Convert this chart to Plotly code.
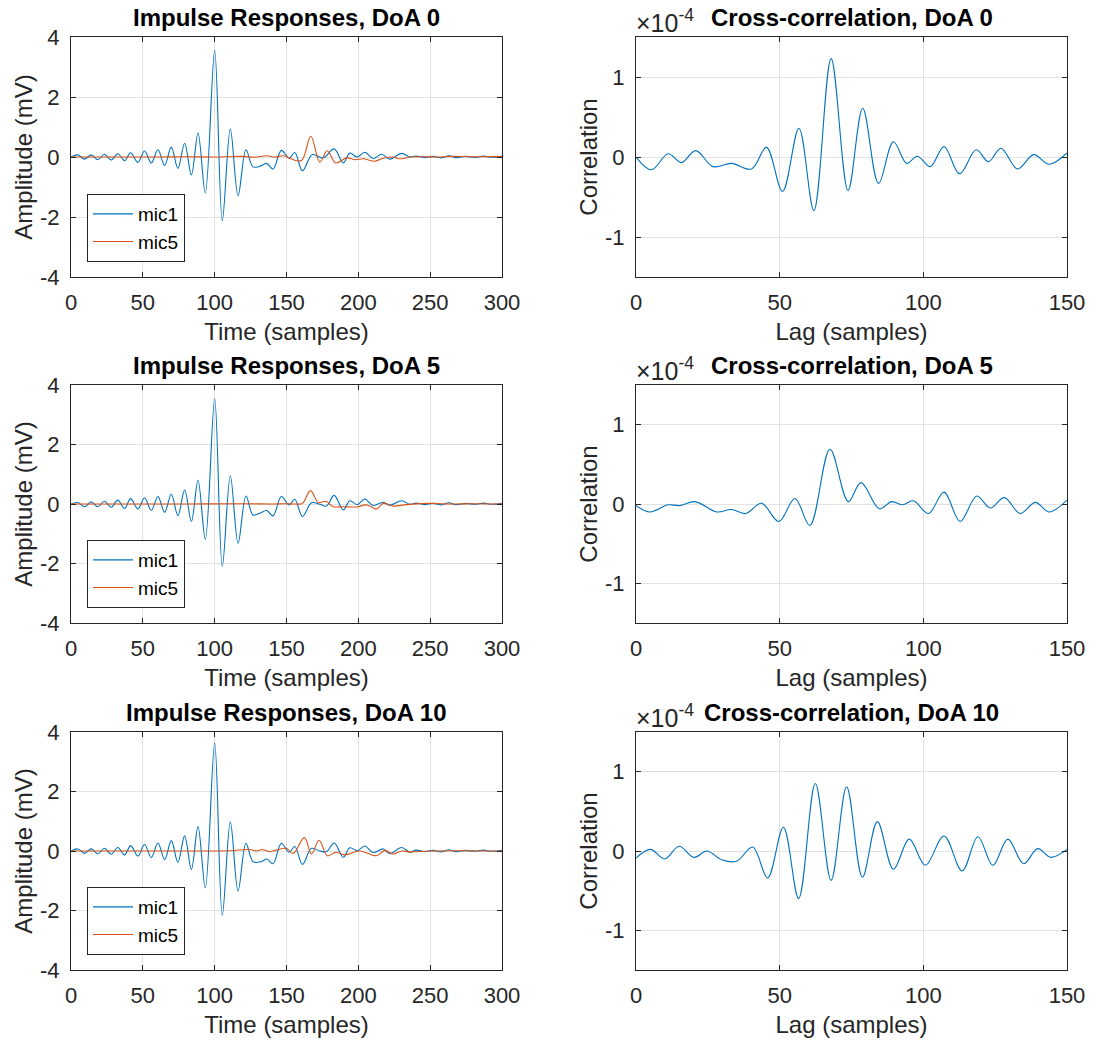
import plotly.graph_objects as go

# ---------------- data ----------------
# Impulse responses (mV) – extrema / key points, samples on x
tail_x = [240, 246, 252, 258, 263, 268, 275, 281, 287, 293, 300]

ir0_mic1_x = [0, 4.8, 9.4, 14.1, 18.7, 23.3, 28, 32.6, 37.3, 41.5, 46.6, 51.2, 55.9, 60.5, 65.2,
              69.8, 74.4, 79.1, 83.8, 88.4, 93.5, 100, 105.3, 110.9, 116.3, 121.8, 126.7, 131.4,
              136.2, 140.6, 146.4, 151.8, 155.8, 161.1, 168, 175.5, 183.2, 189.5, 194.1, 199.2,
              204.5, 210.3, 216.2, 222, 230.1, 235.9] + tail_x
ir0_mic1_y = [0, 0.07, -0.07, 0.07, -0.09, 0.09, -0.10, 0.11, -0.12, 0.14, -0.18, 0.20, -0.20, 0.24, -0.28,
              0.33, -0.38, 0.46, -0.60, 0.80, -1.20, 3.55, -2.12, 0.93, -1.29, 0.24, -0.33, -0.31,
              -0.22, -0.40, 0.22, -0.04, 0.15, -0.46, 0.08, -0.03, 0.27, -0.20, 0.13, 0.0,
              0.16, -0.05, 0.09, -0.07, 0.12, 0.0,
              0.03, -0.02, 0.02, -0.03, 0.04, -0.02, 0.02, -0.01, 0.03, -0.01, 0.02]
ir0_mic5_x = [0, 20, 40, 60, 80, 100, 110, 120, 128, 136, 142, 148, 153, 160.4, 166.9, 173.2, 178.3,
              184.3, 191.8, 197.6, 203.4, 211.5, 217.3, 224, 229, 236, 245, 255, 265, 280, 300]
ir0_mic5_y = [0, 0, 0, 0, 0.01, 0, 0.01, 0.02, -0.01, 0.04, 0.0, 0.04, -0.06, -0.12, 0.69, -0.17, 0.21,
              -0.20, -0.03, -0.09, -0.06, -0.14, -0.04, 0.0, -0.06, 0.0, 0.01, 0.0, 0.02, 0.01, 0.02]

ir5_mic1_x = [0, 4.8, 9.4, 14.1, 18.7, 23.3, 28, 32.6, 37.3, 41.5, 46.6, 51.2, 55.9, 60.5, 65.2,
              69.8, 74.4, 79.1, 83.8, 88.4, 93.5, 100, 105.3, 110.9, 116.3, 121.8, 126.7, 131.4,
              136.2, 140.6, 146.4, 151.8, 155.8, 161.1, 167.4, 173.2, 177.8, 183.2, 189.5, 194.1,
              199.2, 204.5, 210.3, 217.3, 221.9, 230.1, 235.9] + tail_x
ir5_mic1_y = [0, 0.05, -0.09, 0.07, -0.09, 0.09, -0.11, 0.13, -0.15, 0.18, -0.17, 0.21, -0.22, 0.25, -0.28,
              0.33, -0.39, 0.47, -0.59, 0.80, -1.18, 3.54, -2.10, 0.95, -1.32, 0.27, -0.37, -0.31,
              -0.22, -0.40, 0.25, -0.03, 0.16, -0.42, 0.04, -0.01, -0.07, 0.29, -0.20, 0.11,
              -0.02, 0.17, -0.05, 0.06, -0.04, 0.11, -0.01,
              0.03, -0.02, 0.02, -0.03, 0.04, -0.02, 0.02, -0.01, 0.03, -0.01, 0.02]
ir5_mic5_x = [0, 40, 80, 120, 140, 150, 155.8, 161.1, 166.7, 172.1, 177.4, 182.5, 189.5, 198.8,
              205.7, 212.7, 217.3, 224.3, 233.6, 249.9, 265, 280, 300]
ir5_mic5_y = [0, 0, 0, 0.01, 0.0, 0.01, 0.0, 0.02, 0.45, 0.05, 0.09, -0.09, -0.09, -0.10,
              -0.03, -0.17, 0.02, -0.07, -0.02, 0.02, 0.0, 0.01, 0.0]

ir10_mic1_x = [0, 4.8, 9.4, 14.1, 18.7, 23.3, 28, 32.6, 37.3, 41.5, 46.6, 51.2, 55.9, 60.5, 65.2,
               69.8, 74.4, 79.1, 83.8, 88.4, 93.5, 100, 105.3, 110.9, 116.3, 121.8, 126.7, 132.5,
               136.2, 140.6, 146.4, 151.8, 155.8, 161.1, 167.4, 173.2, 177.8, 183.2, 189.5, 194.1,
               199.2, 204.5, 210.3, 217.3, 221.9, 230.1, 235.9] + tail_x
ir10_mic1_y = [0, 0.07, -0.08, 0.07, -0.09, 0.09, -0.11, 0.12, -0.13, 0.18, -0.17, 0.22, -0.22, 0.27, -0.29,
               0.35, -0.38, 0.51, -0.62, 0.82, -1.24, 3.63, -2.16, 0.97, -1.34, 0.26, -0.36, -0.36,
               -0.27, -0.43, 0.26, -0.04, 0.15, -0.45, 0.09, 0.0, -0.02, 0.27, -0.21, 0.11,
               0.01, 0.17, -0.05, 0.07, -0.09, 0.12, -0.04,
               0.03, -0.02, 0.02, -0.03, 0.04, -0.02, 0.02, -0.01, 0.03, -0.01, 0.02]
ir10_mic5_x = [0, 40, 80, 110, 124.4, 129, 133, 138, 143, 150, 154.6, 162.5, 167.4, 172.7, 178.5,
               184.3, 190.6, 201, 212.7, 218.5, 224.3, 230, 236, 250, 270, 300]
ir10_mic5_y = [0, 0, 0, 0.01, 0.05, 0.0, 0.05, -0.02, 0.03, 0.09, -0.08, 0.45, -0.10, 0.36, -0.16,
               -0.04, -0.13, 0.0, -0.16, 0.02, -0.10, 0.0, -0.03, 0.0, 0.01, 0.0]

# Cross-correlation (units of 1e-4), lag in samples
xc0_x = [0, 5.4, 11.2, 15.8, 20.8, 26.8, 33.2, 40.2, 45.4, 51.0, 56.7, 61.9, 67.9, 73.8, 78.9, 84.4,
         89.6, 94.2, 97.9, 102.4, 107.2, 112.6, 118.4, 122.7, 127, 132.8, 138.4, 143.8, 150]
xc0_y = [0.0, -0.16, 0.04, -0.07, 0.08, -0.12, -0.08, -0.15, 0.12, -0.43, 0.36, -0.67, 1.23, -0.42, 0.61,
         -0.33, 0.19, -0.08, 0.01, -0.12, 0.13, -0.21, 0.09, -0.06, 0.11, -0.15, 0.03, -0.09, 0.05]

xc5_x = [0, 4.8, 11.2, 15.2, 20.5, 28.1, 33.2, 38.2, 43.7, 49.7, 55.3, 60.5, 67.5, 73.9, 78.3, 84.7,
         89, 92.8, 96.5, 101.8, 107.2, 112.8, 118.6, 123.3, 128.2, 133.7, 139, 143.8, 150]
xc5_y = [-0.02, -0.10, -0.01, -0.02, 0.03, -0.10, -0.07, -0.12, 0.01, -0.22, 0.07, -0.27, 0.69, 0.03, 0.27,
         -0.06, 0.03, -0.01, 0.04, -0.12, 0.15, -0.22, 0.10, -0.05, 0.08, -0.12, 0.02, -0.10, 0.05]

xc10_x = [0, 5.0, 10, 15, 20.2, 24.7, 29.8, 35, 40.6, 45.8, 51.3, 56.6, 62.4, 67.9, 73.3, 78.8, 84,
          89.6, 95.1, 100.7, 107.2, 113.5, 119, 124.2, 129.4, 134.9, 139.8, 144.4, 150]
xc10_y = [-0.09, 0.02, -0.10, 0.06, -0.08, 0.0, -0.11, -0.13, 0.05, -0.34, 0.30, -0.60, 0.85, -0.37, 0.81,
          -0.33, 0.37, -0.23, 0.15, -0.18, 0.19, -0.25, 0.18, -0.18, 0.15, -0.16, 0.03, -0.08, 0.02]

doa_labels = ["0", "5", "10"]
ir_ticks = [-4, -2, 0, 2, 4]
ir_ticktext = ["-4", "-2", "0", "2", "4"]
xc_ticks = [-1, 0, 1]
xc_ticktext = ["-1", "0", "1"]

# ---------------- figure ----------------
BLUE = "#0072BD"
ORANGE = "#D95319"
AX = "#262626"
GRID = "#e2e2e2"
FONT = "Liberation Sans, Arial, sans-serif"

fig = go.Figure()

ir_sets = [(ir0_mic1_x, ir0_mic1_y, ir0_mic5_x, ir0_mic5_y),
           (ir5_mic1_x, ir5_mic1_y, ir5_mic5_x, ir5_mic5_y),
           (ir10_mic1_x, ir10_mic1_y, ir10_mic5_x, ir10_mic5_y)]
xc_sets = [(xc0_x, xc0_y), (xc5_x, xc5_y), (xc10_x, xc10_y)]

legend_names = ["legend", "legend2", "legend3"]
for r in range(3):
    lx = "x" if r == 0 else f"x{2*r+1}"
    ly = "y" if r == 0 else f"y{2*r+1}"
    rx = f"x{2*r+2}"
    ry = f"y{2*r+2}"
    m1x, m1y, m5x, m5y = ir_sets[r]
    fig.add_trace(go.Scatter(x=m1x, y=m1y, mode="lines", name="mic1",
                             line=dict(color=BLUE, width=1.1, shape="spline", smoothing=1.0),
                             xaxis=lx, yaxis=ly, legend=legend_names[r]))
    fig.add_trace(go.Scatter(x=m5x, y=m5y, mode="lines", name="mic5",
                             line=dict(color=ORANGE, width=1.1, shape="spline", smoothing=1.0),
                             xaxis=lx, yaxis=ly, legend=legend_names[r]))
    cx, cy = xc_sets[r]
    fig.add_trace(go.Scatter(x=cx, y=cy, mode="lines", showlegend=False,
                             line=dict(color=BLUE, width=1.1, shape="spline", smoothing=1.0),
                             xaxis=rx, yaxis=ry))

# geometry (pixels) -> domains
W, H = 1103, 1044
ML, MR, MT, MB = 71, 36, 37, 74
PW, PH = W - ML - MR, H - MT - MB
left_dom = [0, (502 - ML) / PW]
right_dom = [(636 - ML) / PW, 1]
row_px = [(37, 277), (385, 623), (732, 970)]
row_dom = [[1 - (b - MT) / PH, 1 - (t - MT) / PH] for t, b in row_px]

axis_common = dict(showline=True, linecolor=AX, linewidth=1, mirror="ticks", ticks="inside",
                   ticklen=5, tickcolor=AX, showgrid=True, gridcolor=GRID, gridwidth=1,
                   zeroline=False, tickfont=dict(family=FONT, size=22, color=AX),
                   ticklabelstandoff=6)
title_font = dict(family=FONT, size=24, color=AX)

layout = dict(width=W, height=H, margin=dict(l=ML, r=MR, t=MT, b=MB),
              paper_bgcolor="white", plot_bgcolor="white",
              font=dict(family=FONT, color=AX))
annotations = []
for r in range(3):
    li = 2 * r + 1
    ri = 2 * r + 2
    lxk = "xaxis" if li == 1 else f"xaxis{li}"
    lyk = "yaxis" if li == 1 else f"yaxis{li}"
    rxk = f"xaxis{ri}"
    ryk = f"yaxis{ri}"
    lyname = "y" if li == 1 else f"y{li}"
    lxname = "x" if li == 1 else f"x{li}"
    layout[lxk] = dict(axis_common, domain=left_dom, anchor=lyname, range=[0, 300],
                       tickvals=[0, 50, 100, 150, 200, 250, 300],
                       title=dict(text="Time (samples)", font=title_font, standoff=8))
    layout[lyk] = dict(axis_common, domain=row_dom[r], anchor=lxname, range=[-4, 4],
                       tickvals=ir_ticks, ticktext=ir_ticktext,
                       title=dict(text="Amplitude (mV)", font=title_font, standoff=0))
    layout[rxk] = dict(axis_common, domain=right_dom, anchor=f"y{ri}", range=[0, 150],
                       tickvals=[0, 50, 100, 150],
                       title=dict(text="Lag (samples)", font=title_font, standoff=8))
    layout[ryk] = dict(axis_common, domain=row_dom[r], anchor=f"x{ri}", range=[-1.5, 1.5],
                       tickvals=xc_ticks, ticktext=xc_ticktext,
                       title=dict(text="Correlation", font=title_font, standoff=0))
    annotations.append(dict(text=f"<b>Impulse Responses, DoA {doa_labels[r]}</b>",
                            xref=f"{lxname} domain", yref=f"{lyname} domain", x=0.5, y=1,
                            xanchor="center", yanchor="bottom", yshift=4, showarrow=False,
                            font=dict(family=FONT, size=24, color="black")))
    annotations.append(dict(text=f"<b>Cross-correlation, DoA {doa_labels[r]}</b>",
                            xref=f"x{ri} domain", yref=f"y{ri} domain", x=0.5, y=1,
                            xanchor="center", yanchor="bottom", yshift=4, showarrow=False,
                            font=dict(family=FONT, size=24, color="black")))
    annotations.append(dict(text="×10<sup>-4</sup>",
                            xref=f"x{ri} domain", yref=f"y{ri} domain", x=0, y=1,
                            xanchor="left", yanchor="bottom", yshift=-2, xshift=-2, showarrow=False,
                            font=dict(family=FONT, size=25, color=AX)))
    leg = dict(x=(87 - ML) / PW, xanchor="left", y=row_dom[r][0] + 15 / PH, yanchor="bottom",
               bgcolor="white", bordercolor=AX, borderwidth=1, itemwidth=40,
               font=dict(family=FONT, size=19, color="black"), tracegroupgap=0)
    layout[legend_names[r]] = leg
layout["annotations"] = annotations
fig.update_layout(**layout)

fig.write_html("out.html")
